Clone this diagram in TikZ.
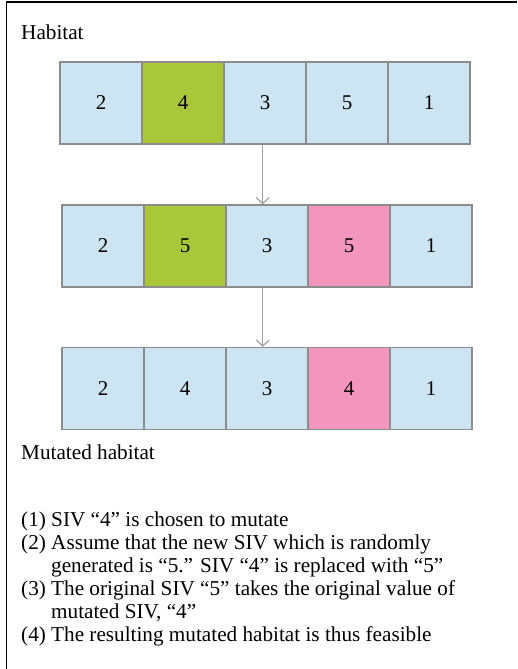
\documentclass[tikz,border=0pt]{standalone}
\usepackage{fontspec}
\setmainfont{Liberation Serif}
\usetikzlibrary{arrows.meta}
\definecolor{cellblue}{RGB}{205,228,242}
\definecolor{cellgreen}{RGB}{169,199,56}
\definecolor{cellpink}{RGB}{242,150,190}
\definecolor{cellline}{RGB}{140,140,140}
\definecolor{arrgray}{RGB}{160,160,160}
\tikzset{
  cell/.style={draw=cellline, line width=1.3pt, fill=cellblue, minimum width=82pt, minimum height=82pt, inner sep=0pt, font=\fontsize{21}{23}\selectfont},
  green/.style={fill=cellgreen},
  pink/.style={fill=cellpink},
  txt/.style={anchor=base west, inner sep=0pt, font=\fontsize{21.2}{23}\selectfont},
  arr/.style={draw=arrgray, line width=1.2pt, -{Straight Barb[length=6pt,width=13pt,line width=1.2pt]}},
  frame/.style={draw=black, line width=1.3pt}
}
\begin{document}
\begin{tikzpicture}[x=1pt,y=-1pt]
\useasboundingbox (0,0) rectangle (517,669);
\coordinate (fa) at (6.5,669);
\coordinate (fb) at (6.5,2);
\coordinate (fc) at (517,2);
\draw[frame] (fa) -- (fb) -- (fc);
\node[txt] (hab) at (21,40) {Habitat};
% row 1
\node[cell] (r1c1) at (101,103) {2};
\node[cell,green] (r1c2) at (183,103) {4};
\node[cell] (r1c3) at (265,103) {3};
\node[cell] (r1c4) at (347,103) {5};
\node[cell] (r1c5) at (429,103) {1};
% row 2
\node[cell] (r2c1) at (103,246) {2};
\node[cell,green] (r2c2) at (185,246) {5};
\node[cell] (r2c3) at (267,246) {3};
\node[cell,pink] (r2c4) at (349,246) {5};
\node[cell] (r2c5) at (431,246) {1};
% row 3
\node[cell] (r3c1) at (103,388.5) {2};
\node[cell] (r3c2) at (185,388.5) {4};
\node[cell] (r3c3) at (267,388.5) {3};
\node[cell,pink] (r3c4) at (349,388.5) {4};
\node[cell] (r3c5) at (431,388.5) {1};
% arrows
\draw[arr] ([xshift=-2.3pt]r1c3.south) -- ([xshift=-4.3pt]r2c3.north);
\draw[arr] ([xshift=-4.3pt]r2c3.south) -- ([xshift=-4.3pt]r3c3.north);
\node[txt] (mut) at (21,459) {Mutated habitat};
\node[txt] (l1) at (21,526) {(1) SIV “4” is chosen to mutate};
\node[txt] (l2a) at (21,549) {(2) Assume that the new SIV which is randomly};
\node[txt] (l2b) at (51,572) {generated is “5.” SIV “4” is replaced with “5”};
\node[txt] (l3a) at (21,595) {(3) The original SIV “5” takes the original value of};
\node[txt] (l3b) at (51,618) {mutated SIV, “4”};
\node[txt] (l4) at (21,641) {(4) The resulting mutated habitat is thus feasible};
\end{tikzpicture}
\end{document}
